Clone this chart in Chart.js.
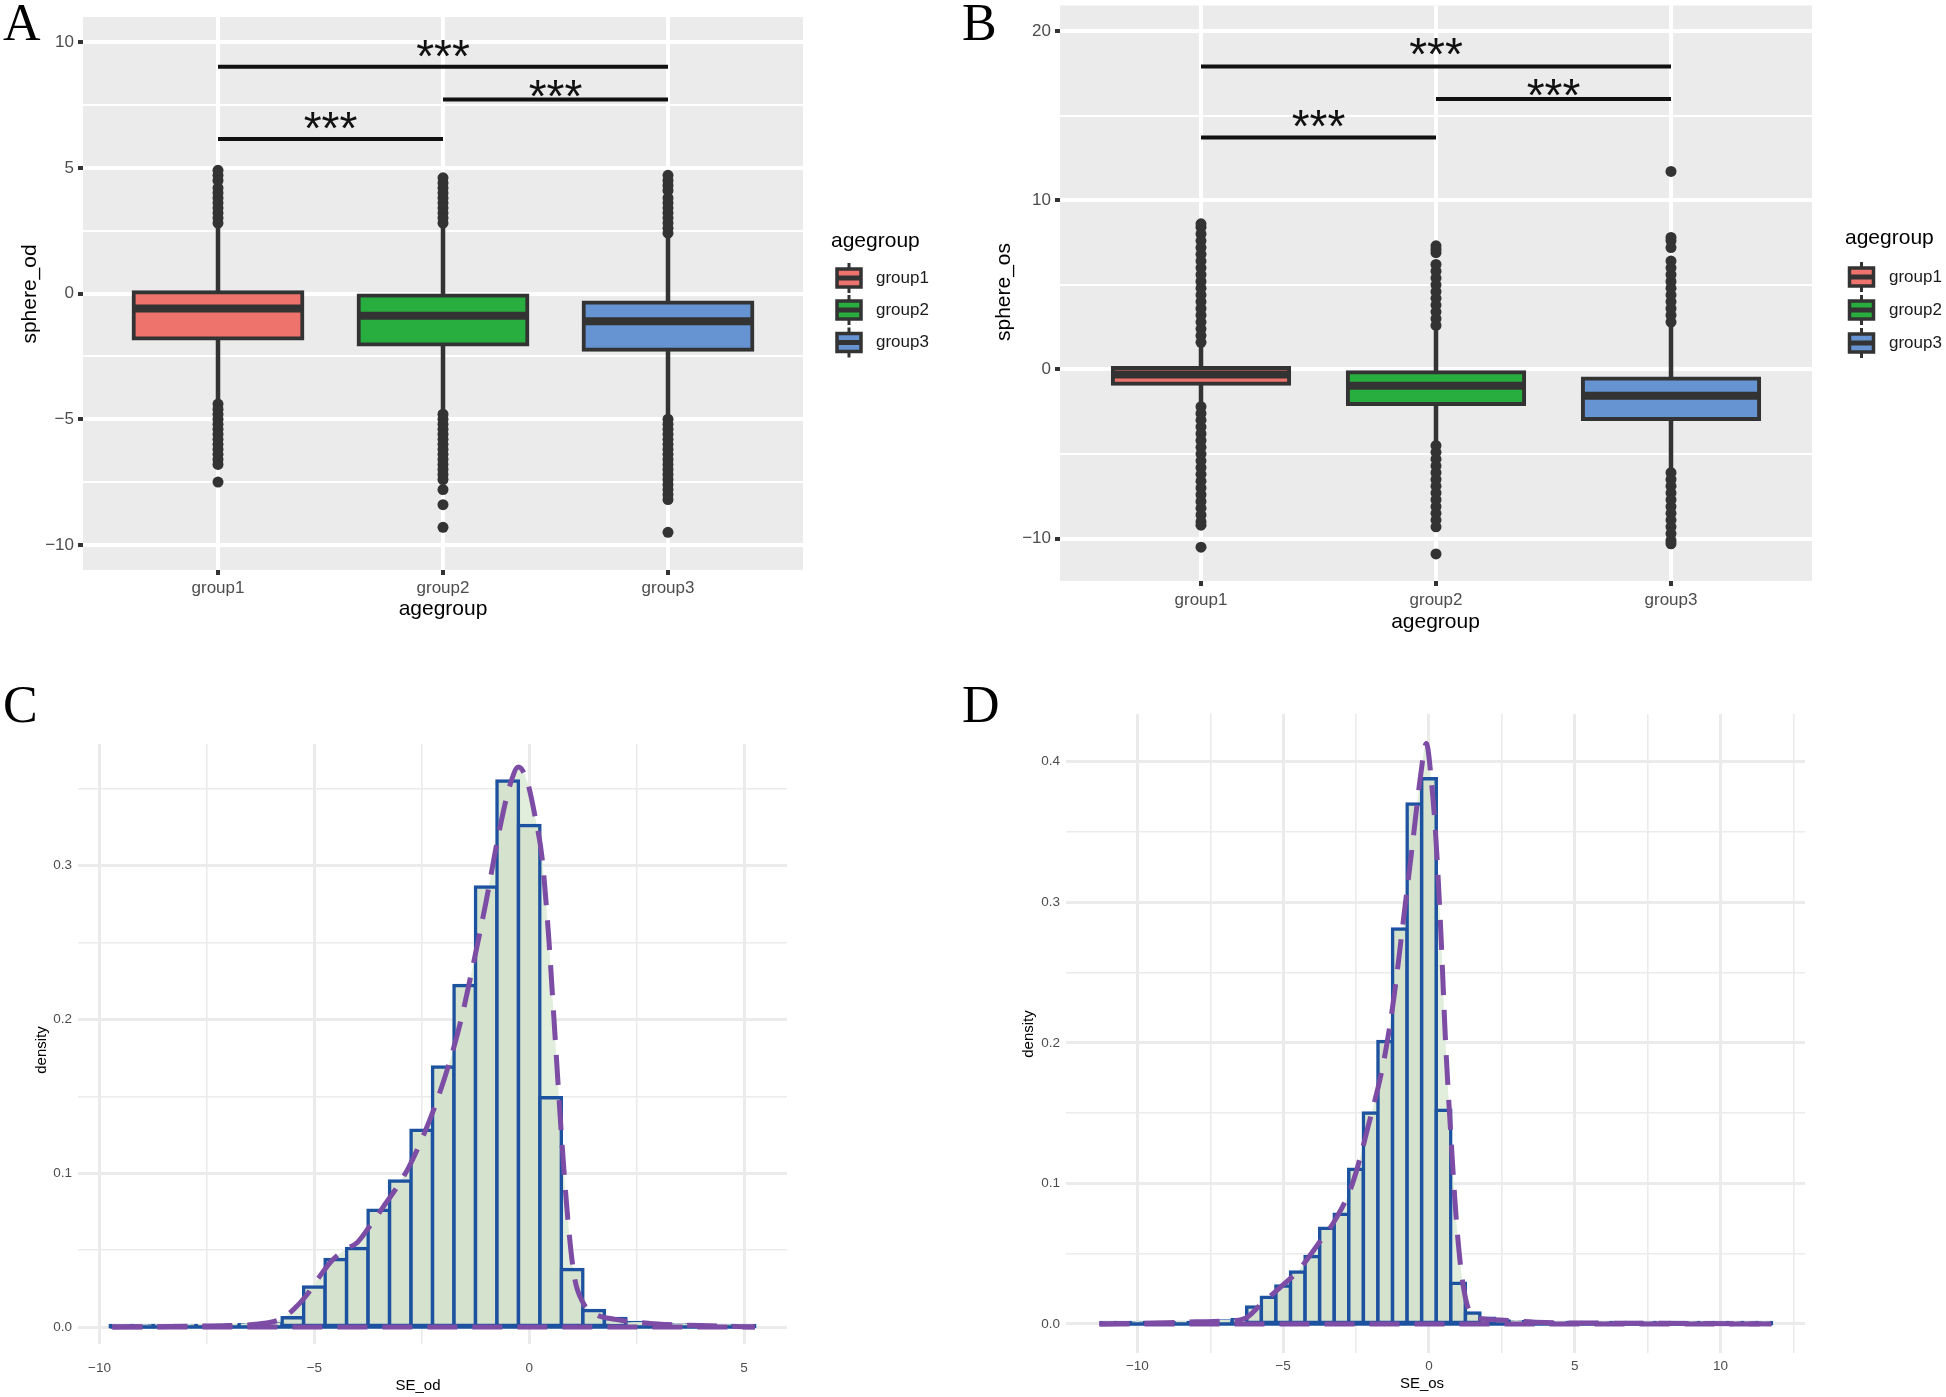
<!DOCTYPE html>
<html>
<head>
<meta charset="utf-8">
<title>sphere by agegroup</title>
<script src="https://cdn.jsdelivr.net/npm/chart.js"></script>
<style>
  body { margin: 0; background: #fff; width: 1946px; height: 1397px; overflow: hidden; position: relative; }
  canvas { position: absolute; }
</style>
</head>
<body>
<canvas id="chartA" width="960" height="650" style="left:0;top:0"></canvas>
<canvas id="chartB" width="986" height="650" style="left:960px;top:0"></canvas>
<canvas id="chartC" width="960" height="747" style="left:0;top:650px"></canvas>
<canvas id="chartD" width="986" height="747" style="left:960px;top:650px"></canvas>
<script>
var groups = ['group1', 'group2', 'group3'];
var groupFill = ['#EE736C', '#28AE3E', '#6693D1'];
var sigPairs = [[1, 3], [2, 3], [1, 2]];

// A: sphere_od boxplots
var odQ1 = [-1.79, -2.03, -2.24];
var odMed = [-0.6, -0.89, -1.1];
var odQ3 = [0.05, -0.08, -0.36];
var odWhiskLo = [-4.4, -4.7, -4.95];
var odWhiskHi = [2.7, 2.7, 2.4];
var odOut1 = [2.8, 3.0, 3.2, 3.4, 3.6, 3.8, 4.0, 4.2, 4.5, 4.7, 4.9, -4.4, -4.6, -4.8, -5.0, -5.2, -5.4, -5.6, -5.8, -6.0, -6.2, -6.4, -6.6, -6.8, -7.5];
var odOut2 = [2.8, 3.0, 3.2, 3.4, 3.6, 3.8, 4.0, 4.2, 4.4, 4.6, -4.8, -5.0, -5.2, -5.4, -5.6, -5.8, -6.0, -6.2, -6.4, -6.6, -6.8, -7.0, -7.2, -7.4, -7.8, -8.4, -9.3];
var odOut3 = [2.4, 2.6, 2.8, 3.0, 3.2, 3.4, 3.6, 3.8, 4.1, 4.3, 4.5, 4.7, -5.0, -5.2, -5.4, -5.6, -5.8, -6.0, -6.2, -6.4, -6.6, -6.8, -7.0, -7.2, -7.4, -7.6, -7.8, -8.0, -8.2, -9.5];
var odSigY = [9.02, 7.72, 6.15];
var odStarY = [9.84, 8.26, 7.0];

// B: sphere_os boxplots
var osQ1 = [-0.85, -2.04, -2.93];
var osMed = [-0.3, -0.96, -1.56];
var osQ3 = [0.08, -0.17, -0.53];
var osWhiskLo = [-2.2, -4.5, -6.1];
var osWhiskHi = [1.6, 2.6, 2.8];
var osOut1 = [1.6, 2.0, 2.4, 2.8, 3.2, 3.6, 4.0, 4.4, 4.8, 5.2, 5.6, 6.0, 6.4, 6.8, 7.2, 7.6, 8.0, 8.4, 8.6, -2.2, -2.6, -3.0, -3.4, -3.8, -4.2, -4.6, -5.0, -5.4, -5.8, -6.2, -6.6, -7.0, -7.4, -7.8, -8.2, -8.6, -9.0, -9.2, -10.5];
var osOut2 = [2.6, 3.0, 3.4, 3.8, 4.2, 4.6, 5.0, 5.4, 5.8, 6.2, 6.9, 7.1, 7.3, -4.5, -4.9, -5.3, -5.7, -6.1, -6.5, -6.9, -7.3, -7.7, -8.1, -8.5, -8.9, -9.3, -10.9];
var osOut3 = [2.8, 3.2, 3.6, 4.0, 4.4, 4.8, 5.2, 5.6, 6.0, 6.4, 7.2, 7.6, 7.8, 11.7, -6.1, -6.5, -6.9, -7.3, -7.7, -8.1, -8.5, -8.9, -9.3, -9.7, -10.1, -10.3];
var osSigY = [17.9, 15.98, 13.7];
var osStarY = [19.2, 16.8, 14.95];

// C: SE_od histogram (bin centres, density) and density curve
var odBins = [-9.5, -9, -8.5, -8, -7.5, -7, -6.5, -6, -5.5, -5, -4.5, -4, -3.5, -3, -2.5, -2, -1.5, -1, -0.5, 0, 0.5, 1, 1.5, 2, 2.5, 3, 3.5, 4, 4.5, 5];
var odHist = [0.0002, 0.0002, 0.0003, 0.0005, 0.0007, 0.001, 0.0015, 0.002, 0.006, 0.026, 0.044, 0.051, 0.076, 0.095, 0.128, 0.169, 0.222, 0.286, 0.355, 0.326, 0.149, 0.0375, 0.0107, 0.0055, 0.003, 0.002, 0.0015, 0.001, 0.0005, 0.0003];
var odKdeX = [-9.7, -8, -7, -6.3, -5.8, -5.5, -5.2, -4.9, -4.6, -4.3, -4.0, -3.7, -3.4, -3.1, -2.8, -2.5, -2.2, -1.9, -1.6, -1.3, -1.0, -0.7, -0.45, -0.25, -0.05, 0.15, 0.3, 0.45, 0.6, 0.75, 0.9, 1.05, 1.25, 1.5, 2, 3, 4, 5.25];
var odKdeY = [0, 0.0005, 0.001, 0.002, 0.005, 0.011, 0.02, 0.032, 0.043, 0.05, 0.055, 0.066, 0.078, 0.09, 0.104, 0.122, 0.143, 0.168, 0.198, 0.236, 0.277, 0.322, 0.352, 0.364, 0.355, 0.33, 0.305, 0.255, 0.19, 0.125, 0.07, 0.033, 0.016, 0.009, 0.005, 0.002, 0.001, 0];

// D: SE_os histogram and density curve
var osBins = [-11, -10.5, -10, -9.5, -9, -8.5, -8, -7.5, -7, -6.5, -6, -5.5, -5, -4.5, -4, -3.5, -3, -2.5, -2, -1.5, -1, -0.5, 0, 0.5, 1, 1.5, 2, 2.5, 3, 3.5, 4, 4.5, 5, 5.5, 6, 6.5, 7, 7.5, 8, 8.5, 9, 9.5, 10, 10.5, 11, 11.5];
var osHist = [0.0002, 0.0002, 0.0003, 0.0003, 0.0005, 0.0007, 0.001, 0.0015, 0.002, 0.003, 0.012, 0.019, 0.027, 0.037, 0.048, 0.068, 0.078, 0.11, 0.15, 0.201, 0.281, 0.37, 0.388, 0.152, 0.029, 0.0077, 0.004, 0.002, 0.0015, 0.001, 0.0008, 0.0006, 0.0005, 0.0004, 0.0003, 0.0003, 0.0003, 0.0002, 0.0002, 0.0002, 0.0002, 0.0001, 0.0001, 0.0001, 0.0001, 0.0001];
var osKdeX = [-11.3, -9, -8, -7, -6.3, -5.76, -5.1, -4.48, -3.83, -3.16, -2.62, -2.08, -1.54, -1.21, -0.89, -0.56, -0.3, -0.09, 0.09, 0.24, 0.41, 0.56, 0.74, 0.95, 1.17, 1.49, 2.2, 4, 7, 11.75];
var osKdeY = [0, 0.0008, 0.0015, 0.002, 0.004, 0.014, 0.026, 0.038, 0.056, 0.076, 0.1, 0.141, 0.188, 0.231, 0.285, 0.342, 0.388, 0.413, 0.385, 0.345, 0.278, 0.205, 0.138, 0.071, 0.028, 0.006, 0.003, 0.001, 0.0005, 0];

Chart.defaults.font.family = '"Liberation Sans", Arial, sans-serif';
Chart.defaults.animation = false;
Chart.defaults.events = [];
Chart.defaults.plugins.legend.display = false;
Chart.defaults.plugins.tooltip.enabled = false;

function minus(v) { return v < 0 ? '\u2212' + Math.abs(v) : String(v); }

// background, free text, significance stars and legend
var decor = {
  id: 'decor',
  beforeDraw: function (chart, args, o) {
    if (!o.bg) return;
    var a = chart.chartArea, ctx = chart.ctx;
    ctx.save();
    ctx.fillStyle = o.bg;
    ctx.fillRect(a.left, a.top, a.right - a.left, a.bottom - a.top);
    ctx.restore();
  },
  afterDraw: function (chart, args, o) {
    var ctx = chart.ctx;
    (o.texts || []).forEach(function (t) {
      ctx.save();
      ctx.font = t.font;
      ctx.fillStyle = t.color || '#000';
      ctx.textAlign = t.align || 'center';
      ctx.textBaseline = t.base || 'middle';
      ctx.translate(t.x, t.y);
      if (t.rot) ctx.rotate(t.rot);
      ctx.fillText(t.text, 0, 0);
      ctx.restore();
    });
    if (o.stars) {
      var xs = chart.scales.x, ys = chart.scales.y;
      ctx.save();
      ctx.font = '46px "Liberation Sans"';
      ctx.fillStyle = '#111';
      ctx.textAlign = 'center';
      ctx.textBaseline = 'alphabetic';
      sigPairs.forEach(function (p, k) {
        ctx.fillText('***', xs.getPixelForValue((p[0] + p[1]) / 2), ys.getPixelForValue(o.stars[k]) + 26);
      });
      ctx.restore();
    }
    if (o.legend) {
      var L = o.legend;
      ctx.save();
      ctx.fillStyle = '#000';
      ctx.textAlign = 'left';
      ctx.textBaseline = 'middle';
      ctx.font = '21px "Liberation Sans"';
      ctx.fillText('agegroup', L.x, L.titleY);
      L.ys.forEach(function (cy, i) {
        var cx = L.keyX;
        ctx.strokeStyle = '#333333';
        ctx.lineWidth = 3;
        ctx.beginPath(); ctx.moveTo(cx, cy - 15); ctx.lineTo(cx, cy + 15); ctx.stroke();
        ctx.fillStyle = groupFill[i];
        ctx.fillRect(cx - 12, cy - 9, 24, 18);
        ctx.lineWidth = 3.5;
        ctx.strokeRect(cx - 12, cy - 9, 24, 18);
        ctx.lineWidth = 5;
        ctx.beginPath(); ctx.moveTo(cx - 12, cy); ctx.lineTo(cx + 12, cy); ctx.stroke();
        ctx.fillStyle = '#1A1A1A';
        ctx.font = '17px "Liberation Sans"';
        ctx.fillText(groups[i], L.labelX, cy);
      });
      ctx.restore();
    }
  }
};

function boxChart(id, d) {
  var datasets = [];
  var outs = [d.out1, d.out2, d.out3];
  groups.forEach(function (g, i) {
    datasets.push({ type: 'line', data: [{ x: i + 1, y: d.lo[i] }, { x: i + 1, y: d.hi[i] }],
      borderColor: '#333333', borderWidth: 4.5, pointRadius: 0, order: 5 });
    datasets.push({ type: 'scatter', data: outs[i].map(function (v) { return { x: i + 1, y: v }; }),
      pointRadius: 5.5, pointBackgroundColor: '#333333', backgroundColor: '#333333', pointBorderWidth: 0, order: 6 });
    datasets.push({ type: 'line', data: [{ x: i + 1 - 0.375, y: d.med[i] }, { x: i + 1 + 0.375, y: d.med[i] }],
      borderColor: '#333333', borderWidth: 8, pointRadius: 0, order: 2 });
  });
  datasets.push({ type: 'bar', data: groups.map(function (g, i) { return { x: i + 1, y: [d.q1[i], d.q3[i]] }; }),
    backgroundColor: groupFill, borderColor: '#333333', borderWidth: 4, borderSkipped: false, inflateAmount: 2,
    barPercentage: 0.75, categoryPercentage: 1, grouped: false, order: 3 });
  sigPairs.forEach(function (p, k) {
    datasets.push({ type: 'line', data: [{ x: p[0], y: d.sigY[k] }, { x: p[1], y: d.sigY[k] }],
      borderColor: '#111111', borderWidth: 4, pointRadius: 0, order: 1 });
  });

  return new Chart(document.getElementById(id), {
    type: 'line',
    data: { datasets: datasets },
    options: {
      responsive: false, devicePixelRatio: 1,
      layout: { padding: { left: 0, top: d.top, right: d.right, bottom: 0 } },
      scales: {
        x: {
          type: 'linear', min: 0.4, max: 3.6, offset: false,
          afterFit: function (s) { s.height = d.xh; s.paddingLeft = 0; s.paddingRight = 0; },
          ticks: { stepSize: 1, includeBounds: false, autoSkip: false, maxRotation: 0, padding: d.xpad,
            color: '#4D4D4D', font: { size: 17 },
            callback: function (v) { return groups[v - 1] || ''; } },
          grid: { offset: false, color: '#FFFFFF', lineWidth: 4, tickLength: 5, tickWidth: 4, tickColor: '#333333' },
          border: { display: false }
        },
        y: {
          type: 'linear', min: d.ymin, max: d.ymax,
          afterFit: function (s) { s.width = d.yw; s.paddingTop = 0; s.paddingBottom = 0; },
          ticks: { stepSize: d.step, includeBounds: false, autoSkip: false, padding: 4,
            color: '#4D4D4D', font: { size: 17 },
            callback: function (v) { return v % d.major === 0 ? minus(v) : ''; } },
          grid: { color: '#FFFFFF',
            lineWidth: function (c) { return c.tick && c.tick.value % d.major === 0 ? 4 : 2; },
            tickLength: 5, tickWidth: 4,
            tickColor: function (c) { return c.tick && c.tick.value % d.major === 0 ? '#333333' : 'rgba(0,0,0,0)'; } },
          border: { display: false }
        }
      },
      plugins: { decor: { bg: '#EBEBEB', texts: d.texts, stars: d.starY, legend: d.legend } }
    },
    plugins: [decor]
  });
}

function histChart(id, d) {
  var bw = d.bins[1] - d.bins[0];
  var purple = '#7D4CA5', blue = '#1D52A1';
  var datasets = [
    { type: 'line', data: d.kx.map(function (x, i) { return { x: x, y: d.ky[i] }; }),
      borderColor: purple, borderWidth: 5, borderDash: [30, 15], fill: 'origin', backgroundColor: '#E2EEDC',
      pointRadius: 0, cubicInterpolationMode: 'monotone', order: 0 },
    { type: 'line', data: [{ x: d.kx[0], y: 0 }, { x: d.kx[d.kx.length - 1], y: 0 }],
      borderColor: purple, borderWidth: 5, borderDash: [30, 15], pointRadius: 0, order: 1 },
    { type: 'line', data: [{ x: d.bins[0] - bw / 2, y: 0 }, { x: d.bins[d.bins.length - 1] + bw / 2, y: 0 }],
      borderColor: blue, borderWidth: 3.5, pointRadius: 0, order: 2 },
    { type: 'bar', data: d.bins.map(function (x, i) { return { x: x, y: d.h[i] }; }),
      backgroundColor: '#D5E3CE', borderColor: blue, borderWidth: 3.5, borderSkipped: false, inflateAmount: 1.75,
      barPercentage: 1, categoryPercentage: 1, order: 3 }
  ];
  function isMajorY(v) { return Math.round(v * 100) % 10 === 0; }
  return new Chart(document.getElementById(id), {
    type: 'line',
    data: { datasets: datasets },
    options: {
      responsive: false, devicePixelRatio: 1,
      layout: { padding: { left: 0, top: d.top, right: d.right, bottom: 0 } },
      scales: {
        x: {
          type: 'linear', min: d.xmin, max: d.xmax, offset: false,
          afterFit: function (s) { s.height = d.xh; s.paddingLeft = 0; s.paddingRight = 0; },
          ticks: { stepSize: 2.5, includeBounds: false, autoSkip: false, maxRotation: 0, padding: d.xpad,
            color: '#4D4D4D', font: { size: 13.5 },
            callback: function (v) { return v % 5 === 0 ? minus(v) : ''; } },
          grid: { offset: false, color: '#EBEBEB', drawTicks: false,
            lineWidth: function (c) { return c.tick && c.tick.value % 5 === 0 ? 3 : 1.6; } },
          border: { display: false }
        },
        y: {
          type: 'linear', min: d.ymin, max: d.ymax,
          afterFit: function (s) { s.width = d.yw; s.paddingTop = 0; s.paddingBottom = 0; },
          ticks: { stepSize: 0.05, includeBounds: false, autoSkip: false, padding: 6,
            color: '#4D4D4D', font: { size: 13.5 },
            callback: function (v) { return isMajorY(v) ? v.toFixed(1) : ''; } },
          grid: { color: '#EBEBEB', drawTicks: false,
            lineWidth: function (c) { return c.tick && isMajorY(c.tick.value) ? 3 : 1.6; } },
          border: { display: false }
        }
      },
      plugins: {
        filler: { drawTime: 'beforeDatasetsDraw' },
        decor: { texts: d.texts }
      }
    },
    plugins: [decor]
  });
}

var letterFont = '52px "Liberation Serif", "Times New Roman", serif';
var titleFont = '21px "Liberation Sans"';
var smallTitle = '15px "Liberation Sans"';

boxChart('chartA', {
  q1: odQ1, med: odMed, q3: odQ3, lo: odWhiskLo, hi: odWhiskHi,
  out1: odOut1, out2: odOut2, out3: odOut3, sigY: odSigY, starY: odStarY,
  ymin: -11, ymax: 11, step: 2.5, major: 5,
  top: 17, right: 157, yw: 83, xh: 80, xpad: 3,
  legend: { x: 831, titleY: 241, keyX: 849, ys: [278, 310, 342.5], labelX: 876 },
  texts: [
    { text: 'A', x: 3, y: 40, font: letterFont, align: 'left', base: 'alphabetic' },
    { text: 'sphere_od', x: 30, y: 294, font: titleFont, rot: -Math.PI / 2 },
    { text: 'agegroup', x: 443, y: 609, font: titleFont }
  ]
});

boxChart('chartB', {
  q1: osQ1, med: osMed, q3: osQ3, lo: osWhiskLo, hi: osWhiskHi,
  out1: osOut1, out2: osOut2, out3: osOut3, sigY: osSigY, starY: osStarY,
  ymin: -12.5, ymax: 21.5, step: 5, major: 10,
  top: 5, right: 134, yw: 100, xh: 69, xpad: 4.5,
  legend: { x: 885, titleY: 238, keyX: 901.5, ys: [277, 310, 343], labelX: 929 },
  texts: [
    { text: 'B', x: 2, y: 40, font: letterFont, align: 'left', base: 'alphabetic' },
    { text: 'sphere_os', x: 44, y: 292, font: titleFont, rot: -Math.PI / 2 },
    { text: 'agegroup', x: 475.5, y: 622, font: titleFont }
  ]
});

histChart('chartC', {
  bins: odBins, h: odHist, kx: odKdeX, ky: odKdeY,
  xmin: -10.5, xmax: 6.0, ymin: -0.011, ymax: 0.379,
  top: 94, right: 173, yw: 78, xh: 53, xpad: 16,
  texts: [
    { text: 'C', x: 3, y: 72, font: letterFont, align: 'left', base: 'alphabetic' },
    { text: 'density', x: 41.6, y: 400, font: smallTitle, rot: -Math.PI / 2 },
    { text: 'SE_od', x: 418, y: 736, font: smallTitle }
  ]
});

histChart('chartD', {
  bins: osBins, h: osHist, kx: osKdeX, ky: osKdeY,
  xmin: -12.45, xmax: 12.9, ymin: -0.0207, ymax: 0.434,
  top: 64, right: 141, yw: 106, xh: 44, xpad: 5,
  texts: [
    { text: 'D', x: 2, y: 72, font: letterFont, align: 'left', base: 'alphabetic' },
    { text: 'density', x: 69, y: 384, font: smallTitle, rot: -Math.PI / 2 },
    { text: 'SE_os', x: 462, y: 734, font: smallTitle }
  ]
});
</script>
</body>
</html>
